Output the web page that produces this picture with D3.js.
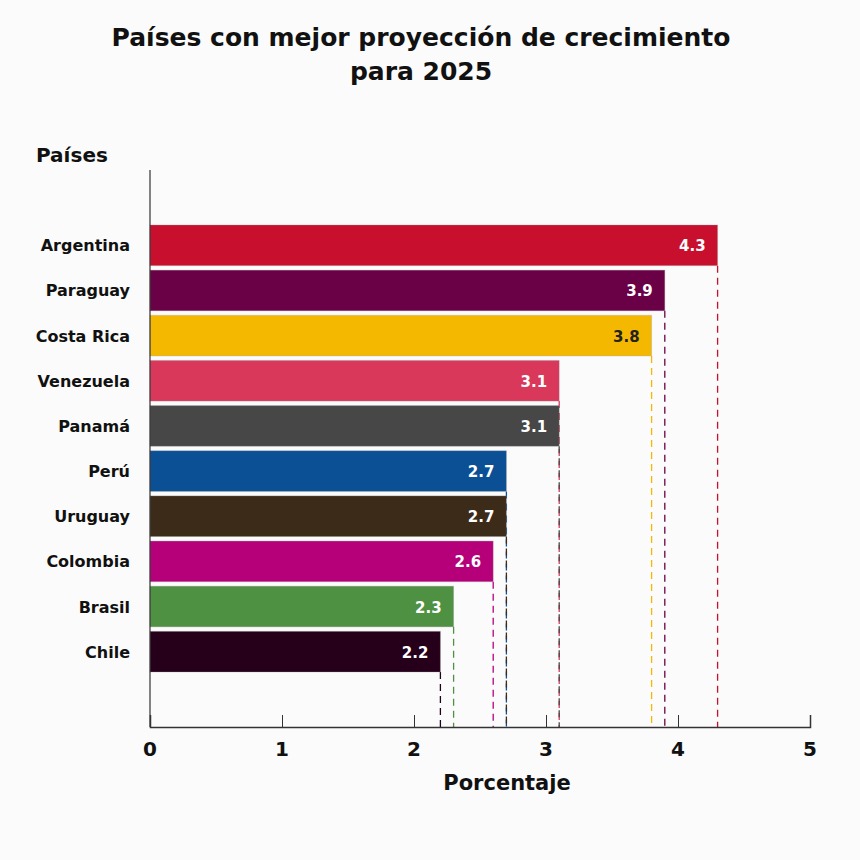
<!DOCTYPE html>
<html><head><meta charset="utf-8">
<script src="https://cdn.jsdelivr.net/npm/d3@7"></script>
<style>body{margin:0;background:#fbfbfb}text{font-family:"DejaVu Sans",sans-serif;font-weight:700}</style>
</head><body><svg id="c" width="860" height="860"></svg>
<script>
const countries=["Argentina","Paraguay","Costa Rica","Venezuela","Panamá","Perú","Uruguay","Colombia","Brasil","Chile"];
const values=[4.3,3.9,3.8,3.1,3.1,2.7,2.7,2.6,2.3,2.2];
const colors=["#c8102e","#6a0045","#f5b800","#d9385a","#474747","#0b4f94","#3d2b1a","#b5007a","#4f9143","#26001a"];
const labelColors=["#fff","#fff","#222","#fff","#fff","#fff","#fff","#fff","#fff","#fff"];
const ticks=[0,1,2,3,4,5];
const svg=d3.select("#c");
const x=d3.scaleLinear().domain([0,5]).range([150,810]);
const y=d3.scaleBand().domain(countries).range([225,672]).paddingInner(0.1).paddingOuter(0);
const axisY=727;
svg.append("text").attr("x",421).attr("y",46).attr("text-anchor","middle").attr("font-size",25).attr("fill","#111").text("Países con mejor proyección de crecimiento");
svg.append("text").attr("x",421).attr("y",80).attr("text-anchor","middle").attr("font-size",25).attr("fill","#111").text("para 2025");
svg.append("text").attr("x",36).attr("y",162).attr("font-size",20).attr("fill","#111").text("Países");
svg.selectAll(".d").data(countries).join("line")
 .attr("x1",(d,i)=>x(values[i])).attr("x2",(d,i)=>x(values[i]))
 .attr("y1",d=>y(d)+y.bandwidth()).attr("y2",axisY)
 .attr("stroke",(d,i)=>colors[i]).attr("stroke-width",1.3).attr("stroke-dasharray","7,5");
svg.selectAll(".b").data(countries).join("rect")
 .attr("x",x(0)).attr("y",d=>y(d)).attr("width",(d,i)=>x(values[i])-x(0)).attr("height",y.bandwidth())
 .attr("fill",(d,i)=>colors[i]).attr("stroke","#999").attr("stroke-opacity",0.3);
svg.selectAll(".v").data(countries).join("text")
 .attr("x",(d,i)=>x(values[i])-12).attr("y",d=>y(d)+y.bandwidth()/2+6).attr("text-anchor","end")
 .attr("font-size",15).attr("fill",(d,i)=>labelColors[i]).text((d,i)=>values[i]);
svg.selectAll(".c").data(countries).join("text")
 .attr("x",130).attr("y",d=>y(d)+y.bandwidth()/2+6).attr("text-anchor","end")
 .attr("font-size",16).attr("fill","#111").text(d=>d);
svg.append("line").attr("x1",150).attr("x2",150).attr("y1",170).attr("y2",axisY).attr("stroke","#333").attr("stroke-width",1.2);
const ax=svg.append("g").attr("transform",`translate(0,${axisY})`)
 .call(d3.axisTop(x).tickValues(ticks).tickSize(12).tickFormat(""));
ax.select(".domain").attr("stroke","#333").attr("stroke-width",1.5);
ax.selectAll("line").attr("stroke","#333");
svg.selectAll(".t").data(ticks).join("text").attr("x",d=>x(d)).attr("y",756).attr("text-anchor","middle")
 .attr("font-size",20).attr("fill","#111").text(d=>d);
svg.append("text").attr("x",507).attr("y",790).attr("text-anchor","middle").attr("font-size",21).attr("fill","#111").text("Porcentaje");
</script></body></html>
